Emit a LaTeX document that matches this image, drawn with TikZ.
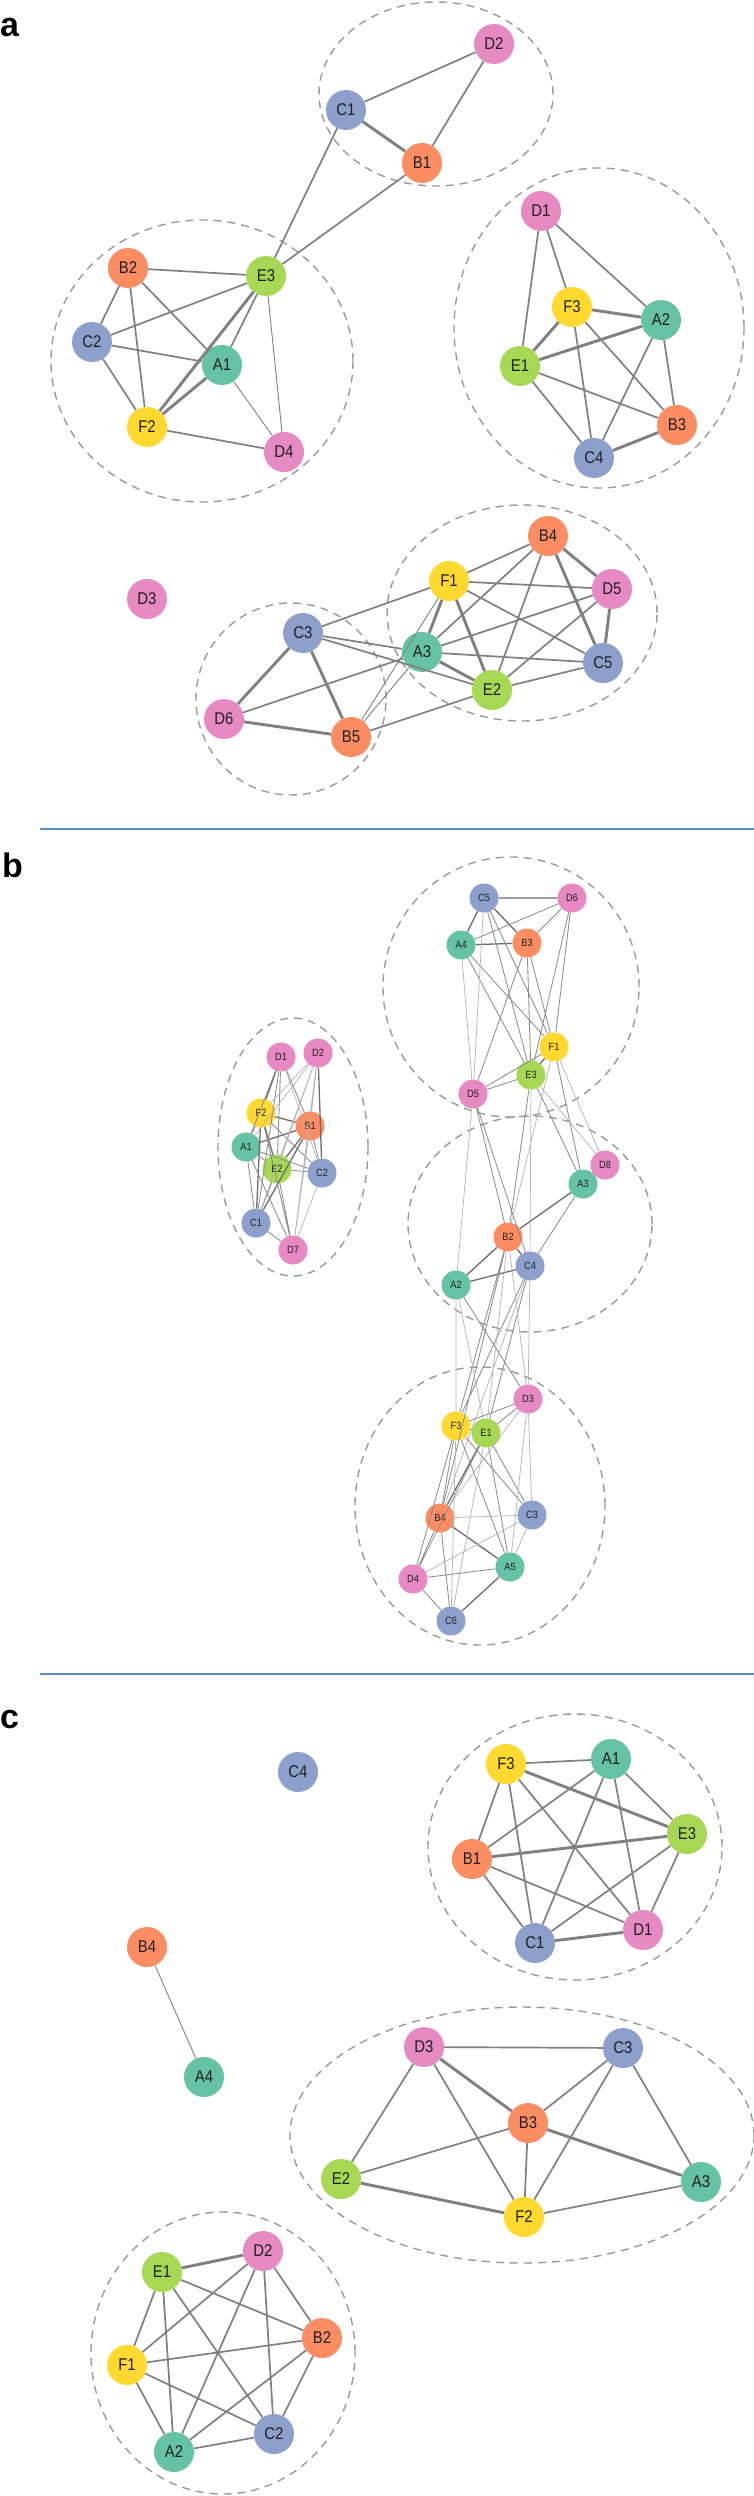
\documentclass[tikz,border=0pt]{standalone}
\usepackage{fontspec}
\newfontfamily\vertexfont[FakeStretch=0.88]{Liberation Sans}
\newfontfamily\panelfont{Liberation Sans}
\definecolor{setA}{HTML}{66C2A5}
\definecolor{setB}{HTML}{FC8D62}
\definecolor{setC}{HTML}{8DA0CB}
\definecolor{setD}{HTML}{E78AC3}
\definecolor{setE}{HTML}{A6D854}
\definecolor{setF}{HTML}{FFD92F}
\definecolor{ink}{HTML}{1F1F1F}
\definecolor{wire}{HTML}{808080}
\definecolor{ring}{HTML}{9A9A9A}
\definecolor{rule}{HTML}{5B8BC9}
\tikzset{
  vertex/.style={
    circle,
    draw=none,
    inner sep=0pt,
    minimum size=40pt,
    text=ink,
    font=\vertexfont\fontsize{17}{17}\selectfont
  },
  vA/.style={vertex, fill=setA},
  vB/.style={vertex, fill=setB},
  vC/.style={vertex, fill=setC},
  vD/.style={vertex, fill=setD},
  vE/.style={vertex, fill=setE},
  vF/.style={vertex, fill=setF},
  compact/.style={
    minimum size=29pt,
    font=\vertexfont\fontsize{10.5}{10.5}\selectfont
  },
  cluster/.style={
    draw=ring,
    line width=1.4pt,
    dash pattern=on 8pt off 6pt
  },
  panel/.style={
    font=\panelfont\bfseries\fontsize{34}{34}\selectfont,
    anchor=base west,
    inner sep=0pt
  },
  divider/.style={draw=rule, line width=2pt}
}

\begin{document}
\begin{tikzpicture}[
  x=1pt, y=-1pt,
  %===========================================================
  % Links in panels a and c
  %===========================================================
  link/.style={draw=wire, line width=1.7pt},
  link_heavy/.style={draw=wire, line width=2.9pt},
  link_light/.style={draw=wire, line width=0.9pt},
  %===========================================================
  % Links in panel b (denser, finer)
  %===========================================================
  blink/.style={draw=wire!90, line width=0.85pt},
  blink_dark/.style={draw=wire!85!black, line width=1.3pt},
  blink_faint/.style={draw=wire!60, line width=0.7pt}
]
  \fill[white] (0, 0) rectangle (754, 2496);
  \useasboundingbox (0, 0) rectangle (754, 2496);

  \node[panel] (lblA) at (0, 37)   {a};
  \node[panel] (lblB) at (2, 877)  {b};
  \node[panel] (lblC) at (0, 1728) {c};

  \draw[divider] (40, 829)  -- (754, 829);
  \draw[divider] (40, 1674) -- (754, 1674);

  %====================================================================
  % Panel a -- five groups
  %====================================================================
  \draw[cluster] (436, 94)  ellipse [x radius=117pt, y radius=92pt];
  \draw[cluster] (202, 361) ellipse [x radius=151pt, y radius=141pt];
  \draw[cluster] (599, 328) ellipse [x radius=145pt, y radius=160pt];
  \draw[cluster] (522, 613) ellipse [x radius=135pt, y radius=108pt];
  \draw[cluster] (291, 699) ellipse [x radius=95pt,  y radius=96pt];

  \node[vD] (aD2) at (494, 44)  {D2};
  \node[vC] (aC1) at (346, 110) {C1};
  \node[vB] (aB1) at (422, 163) {B1};

  \node[vB] (aB2) at (128, 268) {B2};
  \node[vE] (aE3) at (266, 276) {E3};
  \node[vC] (aC2) at (92, 342)  {C2};
  \node[vA] (aA1) at (222, 365) {A1};
  \node[vF] (aF2) at (147, 427) {F2};
  \node[vD] (aD4) at (284, 452) {D4};

  \node[vD] (aD1) at (541, 211) {D1};
  \node[vF] (aF3) at (572, 307) {F3};
  \node[vA] (aA2) at (661, 320) {A2};
  \node[vE] (aE1) at (520, 366) {E1};
  \node[vB] (aB3) at (677, 425) {B3};
  \node[vC] (aC4) at (594, 458) {C4};

  \node[vD] (aD3) at (147, 599) {D3};
  \node[vB] (aB4) at (548, 536) {B4};
  \node[vF] (aF1) at (449, 581) {F1};
  \node[vD] (aD5) at (612, 589) {D5};
  \node[vC] (aC3) at (303, 633) {C3};
  \node[vA] (aA3) at (422, 652) {A3};
  \node[vC] (aC5) at (603, 663) {C5};
  \node[vE] (aE2) at (492, 690) {E2};
  \node[vD] (aD6) at (224, 719) {D6};
  \node[vB] (aB5) at (351, 737) {B5};

  \draw[link_heavy] (aC1) -- (aB1)  (aE3) -- (aF2)  (aA1) -- (aF2);
  \draw[link] (aC1) -- (aD2)  (aB1) -- (aD2)  (aC1) -- (aE3)  (aB1) -- (aE3);
  \draw[link] (aB2) -- (aE3)  (aB2) -- (aC2)  (aB2) -- (aF2)  (aB2) -- (aA1)
              (aC2) -- (aE3)  (aC2) -- (aA1)  (aC2) -- (aF2)  (aE3) -- (aA1)
              (aF2) -- (aD4);
  \draw[link_light] (aE3) -- (aD4)  (aA1) -- (aD4);

  \draw[link_heavy] (aF3) -- (aA2)  (aF3) -- (aE1)  (aE1) -- (aA2)  (aC4) -- (aB3);
  \draw[link] (aD1) -- (aE1)  (aD1) -- (aF3)  (aD1) -- (aA2)  (aF3) -- (aC4)
              (aF3) -- (aB3)  (aA2) -- (aC4)  (aA2) -- (aB3)  (aE1) -- (aC4)
              (aE1) -- (aB3);

  \draw[link_heavy] (aF1) -- (aA3)  (aF1) -- (aE2)  (aB4) -- (aD5)  (aB4) -- (aC5)
                    (aD5) -- (aC5)  (aA3) -- (aE2)  (aC3) -- (aD6)  (aC3) -- (aB5)
                    (aD6) -- (aB5);
  \draw[link] (aF1) -- (aB4)  (aF1) -- (aD5)  (aF1) -- (aC5)  (aF1) -- (aC3)
              (aB4) -- (aA3)  (aB4) -- (aE2)  (aD5) -- (aA3)  (aD5) -- (aE2)
              (aA3) -- (aC5)  (aE2) -- (aC5)  (aC3) -- (aA3)  (aC3) -- (aE2)
              (aD6) -- (aA3)  (aB5) -- (aE2);
  \draw[link_light] (aB5) -- (aF1)  (aB5) -- (aA3);

  %====================================================================
  % Panel b -- four groups, many weak links between them
  %====================================================================
  \draw[cluster] (293, 1147) ellipse [x radius=75pt,  y radius=129pt];
  \draw[cluster] (511, 987)  ellipse [x radius=128pt, y radius=130pt];
  \draw[cluster] (530, 1224) ellipse [x radius=122pt, y radius=108pt];
  \draw[cluster] (480, 1506) ellipse [x radius=125pt, y radius=139pt];

  \node[vD, compact] (bD1) at (281, 1057) {D1};
  \node[vD, compact] (bD2) at (318, 1053) {D2};
  \node[vF, compact] (bF2) at (261, 1113) {F2};
  \node[vB, compact] (bB1) at (310, 1126) {B1};
  \node[vA, compact] (bA1) at (246, 1147) {A1};
  \node[vE, compact] (bE2) at (277, 1169) {E2};
  \node[vC, compact] (bC2) at (322, 1173) {C2};
  \node[vC, compact] (bC1) at (256, 1223) {C1};
  \node[vD, compact] (bD7) at (293, 1250) {D7};

  \node[vC, compact] (bC5) at (484, 898)  {C5};
  \node[vD, compact] (bD6) at (572, 898)  {D6};
  \node[vA, compact] (bA4) at (461, 945)  {A4};
  \node[vB, compact] (bB3) at (527, 943)  {B3};
  \node[vF, compact] (bF1) at (554, 1047) {F1};
  \node[vE, compact] (bE3) at (531, 1075) {E3};
  \node[vD, compact] (bD5) at (473, 1094) {D5};

  \node[vD, compact] (bD8) at (605, 1165) {D8};
  \node[vA, compact] (bA3) at (583, 1184) {A3};
  \node[vB, compact] (bB2) at (508, 1237) {B2};
  \node[vC, compact] (bC4) at (530, 1266) {C4};
  \node[vA, compact] (bA2) at (456, 1285) {A2};

  \node[vD, compact] (bD3) at (528, 1399) {D3};
  \node[vF, compact] (bF3) at (456, 1426) {F3};
  \node[vE, compact] (bE1) at (486, 1433) {E1};
  \node[vB, compact] (bB4) at (440, 1518) {B4};
  \node[vC, compact] (bC3) at (532, 1515) {C3};
  \node[vA, compact] (bA5) at (510, 1567) {A5};
  \node[vD, compact] (bD4) at (413, 1579) {D4};
  \node[vC, compact] (bC6) at (451, 1621) {C6};

  \draw[blink_dark] (bD1) -- (bF2)  (bF2) -- (bB1)  (bB1) -- (bA1)  (bF2) -- (bE2)
                    (bB1) -- (bE2)  (bD2) -- (bC2)  (bF2) -- (bC1)  (bB1) -- (bC1);
  \draw[blink] (bD1) -- (bA1)  (bD1) -- (bE2)  (bD1) -- (bB1)  (bD1) -- (bC1)
               (bF2) -- (bA1)  (bF2) -- (bC2)  (bF2) -- (bD7)  (bB1) -- (bC2)
               (bA1) -- (bE2)  (bA1) -- (bC2)  (bA1) -- (bC1)  (bA1) -- (bD7)
               (bE2) -- (bC2)  (bE2) -- (bC1)  (bE2) -- (bD7)  (bC1) -- (bD7);
  \draw[blink_faint] (bD2) -- (bF2)  (bD2) -- (bA1)  (bD2) -- (bE2)  (bD2) -- (bB1)
                     (bD2) -- (bD7)  (bD1) -- (bC2)  (bB1) -- (bD7)  (bC2) -- (bD7)
                     (bD2) -- (bC1);

  \draw[blink_dark] (bC5) -- (bD6)  (bC5) -- (bA4)  (bC5) -- (bB3)  (bA4) -- (bB3)
                    (bF1) -- (bE3);
  \draw[blink] (bA4) -- (bD6)  (bB3) -- (bD6)  (bC5) -- (bE3)  (bC5) -- (bF1)
               (bA4) -- (bF1)  (bA4) -- (bE3)  (bB3) -- (bF1)  (bB3) -- (bE3)
               (bB3) -- (bD5)  (bD6) -- (bF1)  (bD6) -- (bE3)  (bE3) -- (bD5)
               (bF1) -- (bD5);
  \draw[blink_faint] (bC5) -- (bD5)  (bA4) -- (bD5);

  \draw[blink_dark] (bB2) -- (bA3)  (bB2) -- (bC4)  (bB2) -- (bA2)  (bA2) -- (bC4);
  \draw[blink] (bE3) -- (bB2)  (bE3) -- (bA3)  (bF1) -- (bA3)  (bD5) -- (bB2)
               (bD5) -- (bC4)  (bC4) -- (bA3)  (bA2) -- (bD3)  (bB2) -- (bF3)
               (bB2) -- (bB4)  (bC4) -- (bF3)  (bC4) -- (bE1);
  \draw[blink_faint] (bE3) -- (bC4)  (bE3) -- (bD8)  (bF1) -- (bD8)  (bF1) -- (bB2)
                     (bD5) -- (bA2)  (bA2) -- (bF3)  (bA2) -- (bE1)  (bB2) -- (bE1)
                     (bB2) -- (bD3)  (bC4) -- (bB4)  (bC4) -- (bD3);

  \draw[blink_dark] (bE1) -- (bB4)  (bB4) -- (bA5)  (bC6) -- (bA5);
  \draw[blink] (bF3) -- (bE1)  (bF3) -- (bD3)  (bE1) -- (bD3)  (bF3) -- (bB4)
               (bF3) -- (bD4)  (bF3) -- (bA5)  (bF3) -- (bC3)  (bE1) -- (bD4)
               (bE1) -- (bA5)  (bE1) -- (bC3)  (bB4) -- (bD4)  (bB4) -- (bC6)
               (bD4) -- (bA5)  (bD4) -- (bC6);
  \draw[blink_faint] (bF3) -- (bC6)  (bE1) -- (bC6)  (bB4) -- (bC3)  (bD4) -- (bC3)
                     (bC3) -- (bA5)  (bD3) -- (bC3)  (bD3) -- (bA5)  (bD3) -- (bB4);

  %====================================================================
  % Panel c -- three cliques plus two loose members
  %====================================================================
  \draw[cluster] (575, 1847) ellipse [x radius=147pt, y radius=133pt];
  \draw[cluster] (522, 2135) ellipse [x radius=232pt, y radius=128pt];
  \draw[cluster] (223, 2353) ellipse [x radius=132pt, y radius=141pt];

  \node[vC] (cC4) at (298, 1772) {C4};
  \node[vB] (cB4) at (147, 1947) {B4};
  \node[vA] (cA4) at (204, 2077) {A4};

  \node[vF] (cF3) at (506, 1764) {F3};
  \node[vA] (cA1) at (611, 1759) {A1};
  \node[vE] (cE3) at (687, 1834) {E3};
  \node[vB] (cB1) at (472, 1859) {B1};
  \node[vD] (cD1) at (643, 1930) {D1};
  \node[vC] (cC1) at (535, 1943) {C1};

  \node[vD] (cD3) at (424, 2047) {D3};
  \node[vC] (cC3) at (623, 2048) {C3};
  \node[vB] (cB3) at (528, 2123) {B3};
  \node[vE] (cE2) at (341, 2179) {E2};
  \node[vA] (cA3) at (701, 2182) {A3};
  \node[vF] (cF2) at (524, 2217) {F2};

  \node[vD] (cD2) at (263, 2251) {D2};
  \node[vE] (cE1) at (162, 2272) {E1};
  \node[vB] (cB2) at (322, 2338) {B2};
  \node[vF] (cF1) at (127, 2365) {F1};
  \node[vC] (cC2) at (274, 2434) {C2};
  \node[vA] (cA2) at (174, 2452) {A2};

  \draw[link_light] (cB4) -- (cA4);

  \draw[link_heavy] (cF3) -- (cE3)  (cB1) -- (cE3)  (cC1) -- (cD1);
  \draw[link] (cF3) -- (cA1)  (cF3) -- (cB1)  (cF3) -- (cC1)  (cF3) -- (cD1)
              (cA1) -- (cE3)  (cA1) -- (cB1)  (cA1) -- (cC1)  (cA1) -- (cD1)
              (cE3) -- (cC1)  (cE3) -- (cD1)  (cB1) -- (cC1)  (cB1) -- (cD1);

  \draw[link_heavy] (cD3) -- (cB3)  (cB3) -- (cA3)  (cE2) -- (cF2);
  \draw[link] (cD3) -- (cC3)  (cD3) -- (cE2)  (cD3) -- (cF2)  (cC3) -- (cB3)
              (cC3) -- (cF2)  (cC3) -- (cA3)  (cB3) -- (cE2)  (cB3) -- (cF2)
              (cF2) -- (cA3);

  \draw[link_heavy] (cE1) -- (cD2);
  \draw[link] (cE1) -- (cB2)  (cE1) -- (cF1)  (cE1) -- (cA2)  (cE1) -- (cC2)
              (cD2) -- (cF1)  (cD2) -- (cA2)  (cD2) -- (cC2)  (cD2) -- (cB2)
              (cB2) -- (cF1)  (cB2) -- (cA2)  (cB2) -- (cC2)  (cF1) -- (cC2)
              (cF1) -- (cA2)  (cA2) -- (cC2);

\end{tikzpicture}
\end{document}
